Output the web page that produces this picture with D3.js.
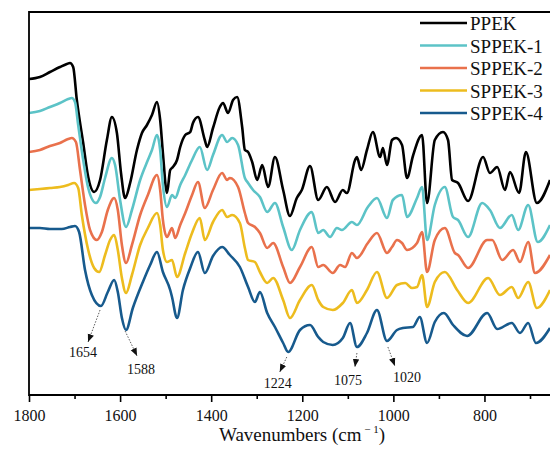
<!DOCTYPE html>
<html>
<head>
<meta charset="utf-8">
<script src="https://cdn.jsdelivr.net/npm/d3@7"></script>
<style>
  body { margin: 0; background: #fff; }
  svg { display: block; }
</style>
</head>
<body>
<div id="wrapper"></div>
<script>
// FTIR spectra, [wavenumber (cm-1), transmittance (a.u., offset)]
const seriesNames = ["PPEK", "SPPEK-1", "SPPEK-2", "SPPEK-3", "SPPEK-4"];
const seriesColors = ["#000000", "#5cc3c7", "#e9714c", "#edbc1e", "#175a8d"];

const ppek = [[1800,316],[1776,318],[1754,323],[1732,328],[1717,331],[1710,332],[1703,328],[1695,295],[1681,252],[1670,218],[1657,203],[1644,215],[1629,255],[1618,278],[1607,262],[1598,222],[1589,197],[1578,212],[1563,245],[1552,262],[1541,270],[1530,280],[1519,293],[1512,275],[1506,242],[1497,202],[1490,225],[1484,228],[1475,235],[1468,248],[1457,260],[1446,263],[1440,272],[1429,278],[1414,255],[1409,248],[1396,267],[1381,288],[1374,292],[1363,282],[1352,295],[1343,298],[1332,268],[1326,245],[1319,243],[1310,233],[1299,215],[1288,230],[1275,208],[1260,238],[1242,205],[1227,179],[1212,197],[1201,205],[1183,229],[1165,195],[1146,208],[1128,193],[1111,205],[1102,202],[1084,235],[1080,238],[1071,225],[1058,245],[1045,263],[1029,238],[1023,247],[1014,230],[1003,255],[994,257],[981,250],[970,217],[957,239],[937,260],[926,192],[909,255],[891,263],[880,255],[871,215],[858,212],[836,194],[803,238],[788,222],[772,228],[755,205],[744,223],[724,202],[709,243],[685,192],[656,215]];

const sppek1 = [[1800,282],[1776,284],[1754,288],[1732,292],[1714,296],[1706,297],[1699,293],[1692,270],[1681,235],[1670,207],[1653,192],[1644,198],[1633,217],[1618,237],[1611,230],[1600,195],[1587,168],[1574,185],[1556,215],[1539,235],[1530,245],[1519,260],[1512,245],[1506,210],[1497,188],[1486,200],[1479,197],[1468,210],[1457,220],[1442,235],[1425,248],[1409,225],[1396,240],[1376,260],[1365,253],[1354,257],[1341,250],[1326,217],[1319,212],[1308,205],[1293,198],[1277,183],[1260,192],[1242,168],[1223,145],[1205,165],[1179,183],[1165,162],[1154,165],[1139,158],[1124,167],[1113,165],[1091,173],[1080,170],[1056,188],[1036,197],[1014,177],[1001,195],[981,200],[970,178],[948,197],[937,208],[926,155],[909,190],[887,208],[869,178],[858,175],[836,158],[805,192],[788,185],[766,167],[740,180],[726,165],[704,190],[683,153],[656,170]];

const sppek2 = [[1800,243],[1776,245],[1754,249],[1732,252],[1714,256],[1706,257],[1697,253],[1688,225],[1677,190],[1666,165],[1651,155],[1640,163],[1627,185],[1613,197],[1605,185],[1596,150],[1587,132],[1574,150],[1556,180],[1539,200],[1519,220],[1512,205],[1506,175],[1497,158],[1486,167],[1479,157],[1468,170],[1457,182],[1442,200],[1429,213],[1414,187],[1396,205],[1376,222],[1365,215],[1359,217],[1341,208],[1326,182],[1319,172],[1304,168],[1293,162],[1277,147],[1264,152],[1242,128],[1227,112],[1205,128],[1179,148],[1165,128],[1154,130],[1133,122],[1117,130],[1106,128],[1091,142],[1080,137],[1056,152],[1036,162],[1014,142],[1003,148],[992,155],[981,152],[970,145],[948,152],[937,163],[926,123],[909,155],[887,167],[865,142],[858,140],[836,127],[794,155],[783,155],[761,135],[737,145],[722,133],[704,153],[689,122],[656,140]];

const sppek3 = [[1800,205],[1776,206],[1754,207],[1732,208],[1714,210],[1701,212],[1692,207],[1684,180],[1670,145],[1657,127],[1646,123],[1633,140],[1622,155],[1613,160],[1605,145],[1596,117],[1587,102],[1574,120],[1556,150],[1539,167],[1519,182],[1512,170],[1506,145],[1497,133],[1486,135],[1475,118],[1457,142],[1442,162],[1425,177],[1414,155],[1396,173],[1376,185],[1365,178],[1354,180],[1337,172],[1326,147],[1319,135],[1304,133],[1293,123],[1277,112],[1264,117],[1242,95],[1227,77],[1205,95],[1179,110],[1165,95],[1154,88],[1133,85],[1111,92],[1091,105],[1080,92],[1058,105],[1036,123],[1014,97],[992,110],[974,112],[959,107],[948,108],[937,120],[926,88],[909,113],[887,123],[860,105],[836,92],[792,117],[766,100],[740,108],[726,97],[704,113],[685,87],[656,105]];

const sppek4 = [[1800,167],[1776,167],[1754,166],[1728,166],[1710,168],[1699,169],[1690,163],[1677,125],[1662,100],[1642,89],[1627,103],[1613,115],[1605,103],[1596,77],[1587,65],[1572,87],[1550,113],[1534,130],[1519,143],[1506,123],[1490,105],[1486,98],[1475,77],[1462,105],[1446,127],[1429,143],[1414,122],[1396,139],[1376,148],[1359,140],[1337,128],[1319,108],[1304,93],[1293,103],[1277,82],[1260,68],[1242,52],[1231,43],[1205,65],[1183,70],[1165,58],[1154,53],[1133,50],[1111,57],[1095,72],[1080,48],[1058,62],[1036,85],[1014,54],[992,65],[979,67],[957,68],[942,78],[926,52],[909,73],[889,82],[869,70],[838,59],[794,82],[772,66],[740,72],[722,62],[704,72],[687,52],[656,67]];

const spectra = [ppek, sppek1, sppek2, sppek3, sppek4];

const majorTicks = [1800, 1600, 1400, 1200, 1000, 800];
const minorTicks = [1700, 1500, 1300, 1100, 900, 700];

// marked bands, arrow starts on SPPEK-4 at [wavenumber, value]
const peakLabels = ["1654", "1588", "1224", "1075", "1020"];
const peakAnchors = [[1644, 85], [1589, 64], [1234, 38], [1080, 42], [1012, 48]];

function drawSpectra() {
    const dimensions = {
        width: 550,
        height: 450,
        margin: { top: 12, right: 0, bottom: 55, left: 29 }
    };
    const serif = "'Liberation Serif', 'Times New Roman', serif";
    const bottom = dimensions.height - dimensions.margin.bottom;

    const svg = d3.select("#wrapper")
        .append("svg")
        .attr("width", dimensions.width)
        .attr("height", dimensions.height);

    const x = d3.scaleLinear()
        .domain([1800, 700])
        .range([dimensions.margin.left, 530]);

    const y = d3.scaleLinear()
        .domain([0, 383])
        .range([bottom, dimensions.margin.top]);

    svg.append("clipPath")
        .attr("id", "plot-clip")
        .append("rect")
        .attr("x", dimensions.margin.left)
        .attr("y", dimensions.margin.top)
        .attr("width", dimensions.width - dimensions.margin.left)
        .attr("height", bottom - dimensions.margin.top);

    const line = d3.line()
        .x(d => x(d[0]))
        .y(d => y(d[1]))
        .curve(d3.curveMonotoneX);

    svg.append("g")
        .attr("clip-path", "url(#plot-clip)")
        .selectAll("path")
        .data(spectra)
        .join("path")
        .attr("d", line)
        .attr("fill", "none")
        .attr("stroke", (d, i) => seriesColors[i])
        .attr("stroke-width", 2.6)
        .attr("stroke-linejoin", "round");

    // frame: left, top, bottom (right side is cut off)
    const frame = svg.append("g")
        .attr("stroke", "#000")
        .attr("stroke-width", 1.8)
        .attr("fill", "none");
    frame.append("path")
        .attr("d", `M${dimensions.width},${dimensions.margin.top}H${dimensions.margin.left}V${bottom}H${dimensions.width}`);

    const majorAxis = svg.append("g")
        .attr("transform", `translate(0,${bottom})`)
        .call(d3.axisBottom(x).tickValues(majorTicks).tickSize(7).tickPadding(8).tickFormat(d3.format("d")));
    majorAxis.select(".domain").remove();
    majorAxis.selectAll("line").attr("stroke-width", 1.6);
    majorAxis.selectAll("text")
        .style("font-family", serif)
        .style("font-size", "16px")
        .attr("fill", "#111");

    const minorAxis = svg.append("g")
        .attr("transform", `translate(0,${bottom})`)
        .call(d3.axisBottom(x).tickValues(minorTicks).tickSize(4).tickFormat(""));
    minorAxis.select(".domain").remove();
    minorAxis.selectAll("line").attr("stroke-width", 1.6);

    const title = svg.append("text")
        .attr("x", 302)
        .attr("y", 441)
        .attr("text-anchor", "middle")
        .style("font-family", serif)
        .style("font-size", "19px")
        .attr("fill", "#111");
    title.append("tspan").text("Wavenumbers (cm");
    title.append("tspan")
        .attr("dy", -8)
        .style("font-size", "11px")
        .text(" \u2212 1");
    title.append("tspan")
        .attr("dy", 8)
        .text(")");

    // legend
    const legend = svg.append("g")
        .selectAll("g")
        .data(seriesNames)
        .join("g")
        .attr("transform", (d, i) => `translate(420,${23 + i * 22.5})`);
    legend.append("line")
        .attr("x1", 0)
        .attr("x2", 47)
        .attr("stroke", (d, i) => seriesColors[i])
        .attr("stroke-width", 2.6);
    legend.append("text")
        .attr("x", 50)
        .attr("y", 7)
        .style("font-family", serif)
        .style("font-size", "19px")
        .attr("fill", "#111")
        .text(d => d);

    // band annotations
    svg.append("defs")
        .append("marker")
        .attr("id", "arrow")
        .attr("viewBox", "0 0 10 10")
        .attr("refX", 10)
        .attr("refY", 5)
        .attr("markerWidth", 8)
        .attr("markerHeight", 8)
        .attr("markerUnits", "userSpaceOnUse")
        .attr("orient", "auto")
        .append("path")
        .attr("d", "M0,1L10,5L0,9z")
        .attr("fill", "#111");

    const tipOffsets = [[-12, 32], [12, 25], [-7, 15], [-2, 14], [7, 19]];
    const textOffsets = [[-17, 47], [16, 43], [-9, 31], [-9, 32], [19, 35]];

    const notes = svg.append("g")
        .selectAll("g")
        .data(peakLabels)
        .join("g")
        .attr("transform", (d, i) => `translate(${x(peakAnchors[i][0])},${y(peakAnchors[i][1])})`);
    notes.append("line")
        .attr("x1", 0)
        .attr("y1", 0)
        .attr("x2", (d, i) => tipOffsets[i][0])
        .attr("y2", (d, i) => tipOffsets[i][1])
        .attr("stroke", "#333")
        .attr("stroke-width", 0.8)
        .attr("stroke-dasharray", "1.5,1.5")
        .attr("marker-end", "url(#arrow)");
    notes.append("text")
        .attr("x", (d, i) => textOffsets[i][0])
        .attr("y", (d, i) => textOffsets[i][1])
        .attr("text-anchor", "middle")
        .style("font-family", serif)
        .style("font-size", "14px")
        .attr("fill", "#111")
        .text(d => d);
}
drawSpectra();
</script>
</body>
</html>
